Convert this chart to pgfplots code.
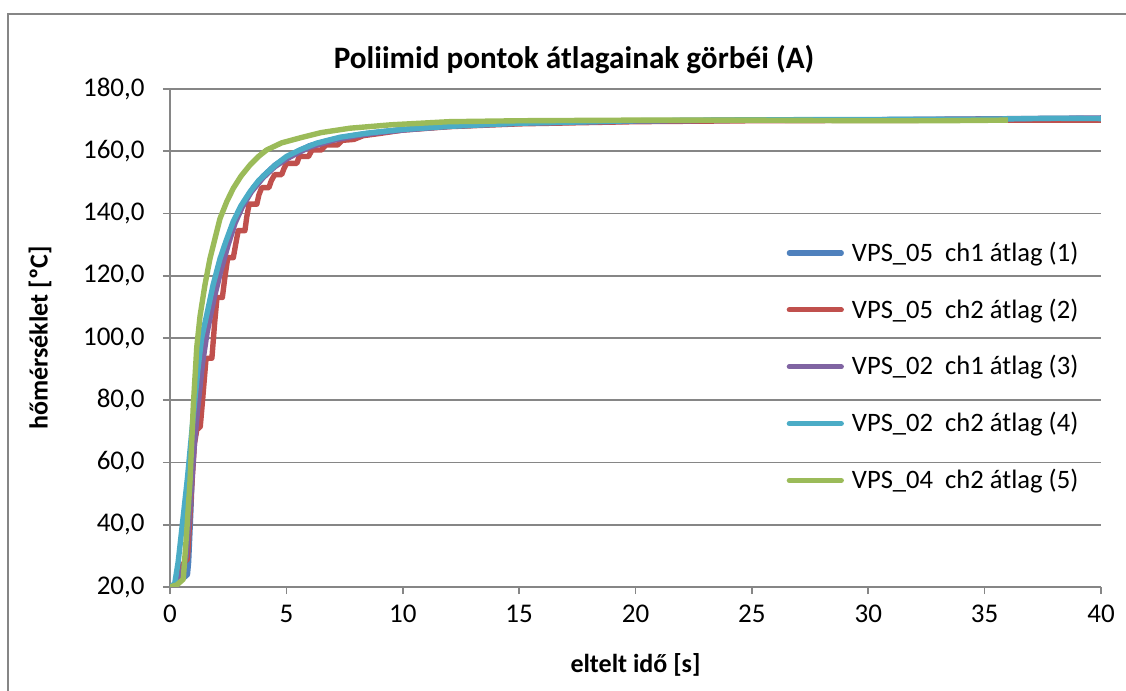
\documentclass[border=0pt]{standalone}
\usepackage{pgfplots}
\pgfplotsset{compat=1.18}
\usepackage{fontspec}
\setmainfont{Carlito}
\definecolor{c1}{HTML}{4F81BD}
\definecolor{c2}{HTML}{C0504D}
\definecolor{c3}{HTML}{8064A2}
\definecolor{c4}{HTML}{4BACC6}
\definecolor{c5}{HTML}{9BBB59}
\definecolor{gridgray}{RGB}{134,134,134}
\begin{document}
\begin{tikzpicture}
\useasboundingbox (0pt,0pt) rectangle (563pt,345.5pt);
\draw[gridgray, line width=0.8pt] (4pt,-5pt) -- (4pt,338.5pt) -- (570pt,338.5pt);
\node[font=\fontsize{15.6}{18}\selectfont\bfseries] at (287pt,315.5pt) {Poliimid pontok átlagainak görbéi (A)};
\begin{axis}[
  at={(85pt,52pt)}, anchor=south west,
  scale only axis, width=465.5pt, height=249pt,
  xmin=0, xmax=40, ymin=20, ymax=180,
  xtick={0,5,...,40}, ytick={20,40,...,180},
  axis x line*=bottom, axis y line*=left,
  axis line style={-, gridgray, line width=0.8pt},
  tick align=outside, major tick length=3.5pt,
  tick style={gridgray, line width=0.8pt},
  ymajorgrids, grid style={gridgray, line width=0.8pt},
  /pgf/number format/assume math mode=true,
  ticklabel style={font=\fontsize{13.5}{15}\selectfont},
  yticklabel style={/pgf/number format/fixed, /pgf/number format/fixed zerofill, /pgf/number format/precision=1, /pgf/number format/use comma, /pgf/number format/1000 sep={}},
  yticklabel style={anchor=east, inner sep=0pt, xshift=-9pt},
  xticklabel style={anchor=north, inner sep=0pt, yshift=-5.5pt},
  xlabel={eltelt idő [s]},
  ylabel={hőmérséklet [ºC]},
  every axis x label/.style={at={(axis description cs:0.5,-0.1566)}, anchor=center, font=\fontsize{13}{15}\selectfont\bfseries},
  every axis y label/.style={at={(axis description cs:-0.1396,0.5)}, rotate=90, anchor=center, font=\fontsize{13}{15}\selectfont\bfseries},
  legend style={at={(axis description cs:0.662,0.698)}, anchor=north west, draw=none, fill=none,
    font=\fontsize{13.3}{15}\selectfont, row sep=15.2pt, inner sep=0pt, nodes={inner sep=1pt},
    /tikz/every odd column/.append style={column sep=3pt}},
  legend cell align=left,
  legend image code/.code={\draw[#1, line width=2.6pt, line cap=round] (0pt,0pt) -- (26pt,0pt);},
  every axis plot/.append style={line width=2.7pt, line join=round},
  clip=true,
]
% (1) VPS_05 ch1
\addplot[c1, mark=none] coordinates {
(0,20) (0.15,20) (0.3,22) (0.6,23) (0.75,24) (0.8,28) (0.9,45) (1.0,66) (1.1,69)
(1.2,80) (1.35,93) (1.5,101) (1.79,112) (2.0,120) (2.29,127) (2.6,134) (2.86,139)
(3.2,144) (3.6,148.5) (4.0,152) (4.5,155.5) (5.0,158) (5.5,160) (6.0,161.8) (7.0,163.8)
(8.0,165.2) (9.0,166.2) (10,167) (12,168) (15,169) (20,169.7) (25,170) (30,170.1)
(35,170.3) (40,170.5)};
% (2) VPS_05 ch2
\addplot[c2, mark=none] coordinates {
(0,20) (0.25,21) (0.45,26) (0.62,28) (0.75,29) (0.9,48) (1.05,66) (1.15,70.5) (1.3,71.5)
(1.4,80) (1.55,93.5) (1.8,93.5) (1.92,105) (2.02,113) (2.25,113) (2.35,119) (2.48,125.8)
(2.72,125.8) (2.82,130) (2.93,134.5) (3.22,134.5) (3.3,139) (3.4,143) (3.73,143) (3.82,146)
(3.94,148.3) (4.25,148.3) (4.35,150.5) (4.5,152.5) (4.8,152.5) (4.9,154.5) (5.01,156.1)
(5.45,156.1) (5.55,158.3) (5.95,158.3) (6.1,160.4) (6.5,160.4) (6.7,162) (7.2,162)
(7.4,163.5) (7.9,163.8) (8.3,165) (9,165.7) (10,166.8) (12,167.9) (15,168.8) (20,169.5)
(25,169.8) (30,169.9) (35,170) (40,170)};
% (3) VPS_02 ch1
\addplot[c3, mark=none] coordinates {
(0,20) (0.2,20.5) (0.5,24) (0.7,30) (0.9,50) (1.05,66) (1.2,78) (1.4,92) (1.6,102)
(1.9,113) (2.2,122) (2.5,130) (2.8,137) (3.1,142) (3.5,147) (4.0,151.5) (4.5,155)
(5.0,157.5) (5.5,159.5) (6,161.3) (7,163.5) (8,165) (9,166) (10,166.8) (12,168)
(15,169) (20,169.7) (25,170) (30,170.1) (35,170.4) (40,170.7)};
% (4) VPS_02 ch2
\addplot[c4, mark=none] coordinates {
(0,20) (0.2,21) (0.35,28) (0.5,38) (0.75,55) (1.0,75) (1.2,90) (1.36,100) (1.58,107.5)
(1.85,117) (2.15,125.5) (2.4,131) (2.72,137.5) (3.05,142.5) (3.44,147) (3.8,150.5)
(4.15,153) (4.6,156) (5.0,158.3) (5.6,160.5) (6.3,162.6) (7.3,164.5) (8.45,165.8)
(10,167) (12,168) (15,169) (20,169.8) (25,170.1) (30,170.2) (35,170.3) (38,170.6) (40,170.5)};
% (5) VPS_04 ch2
\addplot[c5, mark=none] coordinates {
(0,20) (0.3,20.7) (0.57,22.5) (0.72,38) (0.86,54) (1.0,78) (1.15,97) (1.29,107)
(1.5,117) (1.72,125.6) (1.95,132.5) (2.15,138.4) (2.45,144) (2.72,148.1) (3.05,152)
(3.44,155.6) (3.8,158.3) (4.15,160.4) (4.8,162.7) (5.59,164.3) (6.5,166) (7.73,167.4)
(9.5,168.5) (12,169.5) (15,169.8) (20,170) (25,170) (30,169.8) (33,169.8) (36,170)};
\legend{VPS\_05\ \ ch1 átlag (1), VPS\_05\ \ ch2 átlag (2), VPS\_02\ \ ch1 átlag (3), VPS\_02\ \ ch2 átlag (4), VPS\_04\ \ ch2 átlag (5)}
\end{axis}
\end{tikzpicture}
\end{document}
